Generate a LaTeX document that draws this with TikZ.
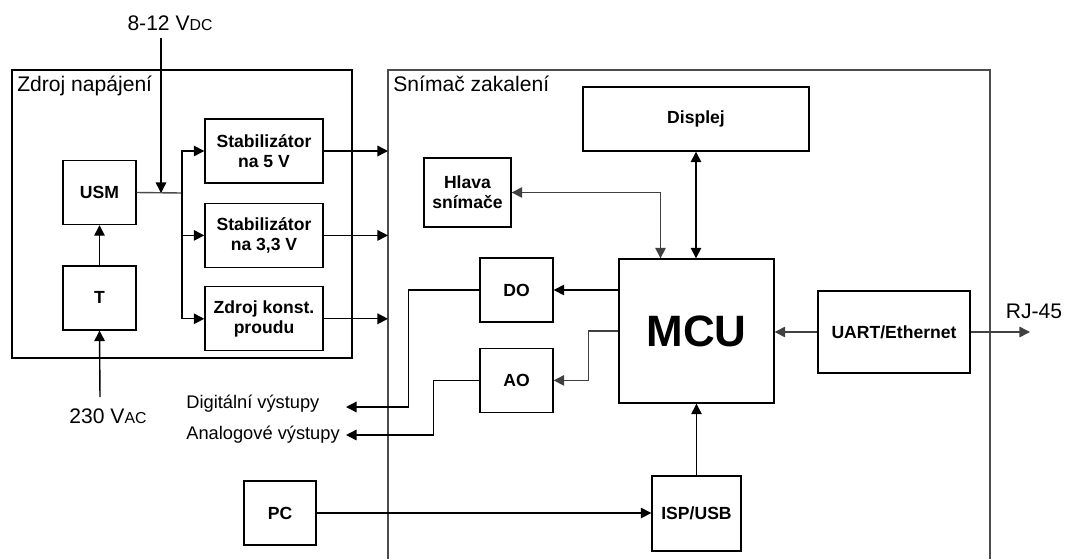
\documentclass[tikz,border=0pt]{standalone}
\usepackage{fontspec}
\setmainfont{Liberation Sans}
\usetikzlibrary{positioning,arrows.meta,calc}
\newcommand{\lowtxt}[1]{{\fontsize{9}{10}\selectfont #1}}

\begin{document}
\begin{tikzpicture}[
  x=0.02cm, y=-0.02cm,
  node distance=4mm and 9mm,
  box/.style={draw, line width=0.8pt, minimum width=#1, minimum height=12.8mm, align=center, inner sep=1pt, font=\bfseries\fontsize{10}{11.2}\selectfont},
  box/.default=14.6mm,
  frame/.style={line width=0.9pt},
  arr/.style={-{Triangle[length=6pt,width=6pt]}, line width=0.8pt},
  arr2/.style={{Triangle[length=6pt,width=6pt]}-{Triangle[length=6pt,width=6pt]}, line width=0.8pt},
  lbl/.style={font=\fontsize{12}{14}\selectfont, inner sep=0pt},
  outlbl/.style={font=\fontsize{10.4}{12}\selectfont, inner sep=0pt}
]
\useasboundingbox (0,0) rectangle (1065,559);

\draw[frame] (12,70) rectangle (352,358);
\draw[frame, line width=1.1pt, black!70] (388,559) -- (388,70) -- (990,70) -- (990,559);
\node[lbl, anchor=base west] (zdrojlbl) at (17,91) {Zdroj napájení};
\node[lbl, anchor=base west] (snimlbl) at (393,91) {Snímač zakalení};

\node[box] (usm) at (99.5,192.5) {USM};
\node[box, below=8mm of usm] (trafo) {T};
\node[box=23.6mm] (stab5) at (264,151) {Stabilizátor\\na 5 V};
\node[box=23.6mm, below=3.8mm of stab5] (stab33) {Stabilizátor\\na 3,3 V};
\node[box=23.6mm, below=3.6mm of stab33] (zdroj) {Zdroj konst.\\proudu};

\node[lbl, anchor=base] (dclbl) at (170,30) {8-12 V\lowtxt{DC}};
\node[lbl, anchor=base] (aclbl) at (108,423) {230 V\lowtxt{AC}};
\coordinate (dctop) at (161,38);
\coordinate (dcjn) at (161,193);
\coordinate (bus) at (182,193);
\coordinate (acin) at (100,397);
\coordinate (sleft) at (388,0);

\node[box=45.2mm] (disp) at (696,119) {Displej};
\node[box=17.4mm, minimum height=13.8mm] (hlava) at (467.5,192.5) {Hlava\\snímače};
\node[box=31mm, minimum height=28.8mm, font=\bfseries\fontsize{25}{28}\selectfont] (mcu) at (696.5,331) {MCU};
\node[box] (do) at (516.5,290) {DO};
\node[box, below=5mm of do] (ao) {AO};
\node[box=30.4mm, minimum height=16.4mm] (uart) at (894,332) {UART/Ethernet};
\node[box=17.8mm, minimum height=15mm] (isp) at (696.5,513.5) {ISP/USB};
\node[box=14.4mm] (pc) at (280,513) {PC};

\coordinate (digtip) at (346,407);
\coordinate (angtip) at (346,435);
\coordinate (rjtip) at (1030,332);
\node[outlbl, anchor=west] (digout) at (186,404) {Digitální výstupy};
\node[outlbl, anchor=west] (angout) at (186,435) {Analogové výstupy};
\node[lbl, anchor=base] (rjlbl) at (1034,318) {RJ-45};

\draw[arr] (dctop) -- (dcjn);
\draw[line width=0.8pt, black!70] (usm.east) -- (bus);
\draw[arr] (bus) |- (stab5.west);
\draw[arr] (bus) |- (stab33.west);
\draw[arr] (bus) |- (zdroj.west);
\draw[arr] (trafo) -- (usm);
\draw[arr] (acin) -- (trafo.south);
\draw[arr] (stab5.east) -- (stab5.east -| sleft);
\draw[arr] (stab33.east) -- (stab33.east -| sleft);
\draw[arr] (zdroj.east) -- (zdroj.east -| sleft);

\draw[arr2] (disp.south) -- (disp.south |- mcu.north);
\draw[arr2, black!75] (hlava.east) -| ([xshift=-7.2mm]mcu.north);
\draw[arr] (mcu.west |- do.east) -- (do.east);
\draw[arr, black!75] (mcu.west) -- ++(-30,0) |- (ao.east);
\draw[arr] (do.west) -- ++(-71,0) |- (digtip);
\draw[arr] (ao.west) -- ++(-46,0) |- (angtip);
\draw[arr, black!75] (uart.west) -- (uart.west -| mcu.east);
\draw[arr, black!75] (uart.east) -- (rjtip);
\draw[arr] (isp.north) -- (isp.north |- mcu.south);
\draw[arr] (pc.east) -- (pc.east -| isp.west);
\end{tikzpicture}
\end{document}
